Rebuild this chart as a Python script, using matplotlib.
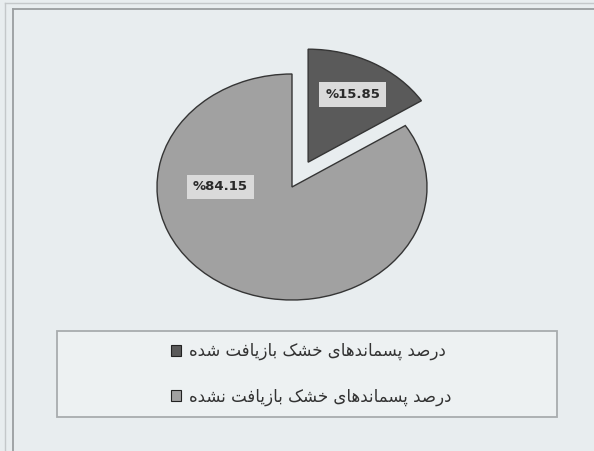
import matplotlib
matplotlib.use("Agg")
import matplotlib.pyplot as plt
from matplotlib.patches import Rectangle
from matplotlib.lines import Line2D

# ---- data -------------------------------------------------------------
labels = [
    "درصد پسماندهای خشک بازیافت شده",
    "درصد پسماندهای خشک بازیافت نشده",
]
values = [15.85, 84.15]
colors = ["#5a5a5a", "#a1a1a1"]
explode = [0.25, 0.0]

# ---- minimal Persian shaping (presentation forms, visual order) ----------
FORMS = {  # isolated, final, initial, medial
    "ا": ("\uFE8D", "\uFE8E", None, None),
    "د": ("\uFEA9", "\uFEAA", None, None),
    "ر": ("\uFEAD", "\uFEAE", None, None),
    "ز": ("\uFEAF", "\uFEB0", None, None),
    "ب": ("\uFE8F", "\uFE90", "\uFE91", "\uFE92"),
    "ت": ("\uFE95", "\uFE96", "\uFE97", "\uFE98"),
    "خ": ("\uFEA5", "\uFEA6", "\uFEA7", "\uFEA8"),
    "س": ("\uFEB1", "\uFEB2", "\uFEB3", "\uFEB4"),
    "ش": ("\uFEB5", "\uFEB6", "\uFEB7", "\uFEB8"),
    "ص": ("\uFEB9", "\uFEBA", "\uFEBB", "\uFEBC"),
    "ف": ("\uFED1", "\uFED2", "\uFED3", "\uFED4"),
    "م": ("\uFEE1", "\uFEE2", "\uFEE3", "\uFEE4"),
    "ن": ("\uFEE5", "\uFEE6", "\uFEE7", "\uFEE8"),
    "ه": ("\uFEE9", "\uFEEA", "\uFEEB", "\uFEEC"),
    "پ": ("\uFB56", "\uFB57", "\uFB58", "\uFB59"),
    "ک": ("\uFB8E", "\uFB8F", "\uFB90", "\uFB91"),
    "ی": ("\uFBFC", "\uFBFD", "\uFBFE", "\uFBFF"),
}


def dual(ch):
    return ch in FORMS and FORMS[ch][2] is not None


def shape(text):
    out = []
    for i, ch in enumerate(text):
        if ch not in FORMS:
            out.append(ch)
            continue
        prev = text[i - 1] if i > 0 else ""
        nxt = text[i + 1] if i + 1 < len(text) else ""
        jp = dual(prev)
        jn = dual(ch) and nxt in FORMS
        iso, fin, ini, med = FORMS[ch]
        if jp and jn:
            out.append(med)
        elif jp:
            out.append(fin)
        elif jn:
            out.append(ini)
        else:
            out.append(iso)
    return "".join(reversed(out))


# ---- figure -------------------------------------------------------------
W, H = 594, 451
bg = "#e8edef"
fig = plt.figure(figsize=(W / 100, H / 100), dpi=100, facecolor=bg)

# frame lines around the chart area
fig.add_artist(Line2D([5 / W, 5 / W], [0, 1 - 3 / H], transform=fig.transFigure,
                      color="#c4c8ca", lw=1.0))
fig.add_artist(Line2D([5 / W, 1], [1 - 3 / H, 1 - 3 / H],
                      transform=fig.transFigure, color="#c4c8ca", lw=1.0))
fig.add_artist(Line2D([13 / W, 13 / W], [0, 1 - 9 / H],
                      transform=fig.transFigure, color="#9a9ea0", lw=1.3))
fig.add_artist(Line2D([13 / W, 1], [1 - 9 / H, 1 - 9 / H],
                      transform=fig.transFigure, color="#9a9ea0", lw=1.3))

# pie: centre (292,187) px, radii 135 x 113 px
cx, cy, rx, ry = 292, 187, 135, 113
lim = 1.3
ax = fig.add_axes([(cx - lim * rx) / W, (H - cy - lim * ry) / H,
                   2 * lim * rx / W, 2 * lim * ry / H])
ax.set_facecolor("none")
wedges, _ = ax.pie(values, colors=colors, explode=explode, startangle=90,
                   counterclock=False,
                   wedgeprops=dict(edgecolor="#353535", linewidth=1.0))
ax.set_aspect("auto")
ax.set_xlim(-lim, lim)
ax.set_ylim(-lim, lim)
ax.axis("off")

label_pos = [(0.45, 0.82), (-0.53, 0.0)]
for v, (px, py) in zip(values, label_pos):
    ax.text(px, py, f"%{v:.2f}", ha="center", va="center", fontsize=9.5,
            fontweight="bold", color="#2a2a2a",
            bbox=dict(boxstyle="square,pad=0.45", facecolor="#dadada",
                      edgecolor="none"))

# legend box
bx0, bx1, by0, by1 = 57, 557, 331, 417
fig.add_artist(Rectangle((bx0 / W, 1 - by1 / H), (bx1 - bx0) / W,
                         (by1 - by0) / H, transform=fig.transFigure,
                         facecolor="#edf1f2", edgecolor="#a8acae", lw=1.3))
handles = [Rectangle((0, 0), 1, 1, facecolor=c, edgecolor="#222222", lw=0.8)
           for c in colors]
fig.legend(handles, [shape(t) for t in labels], loc="center",
           bbox_to_anchor=(bx0 / W + 4 / W, 1 - by1 / H, (bx1 - bx0) / W,
                           (by1 - by0) / H),
           frameon=False, fontsize=12, labelspacing=1.65, handlelength=0.65,
           handleheight=0.65, handletextpad=0.45, labelcolor="#333333")

fig.savefig("out.png", dpi=100, facecolor=bg)
